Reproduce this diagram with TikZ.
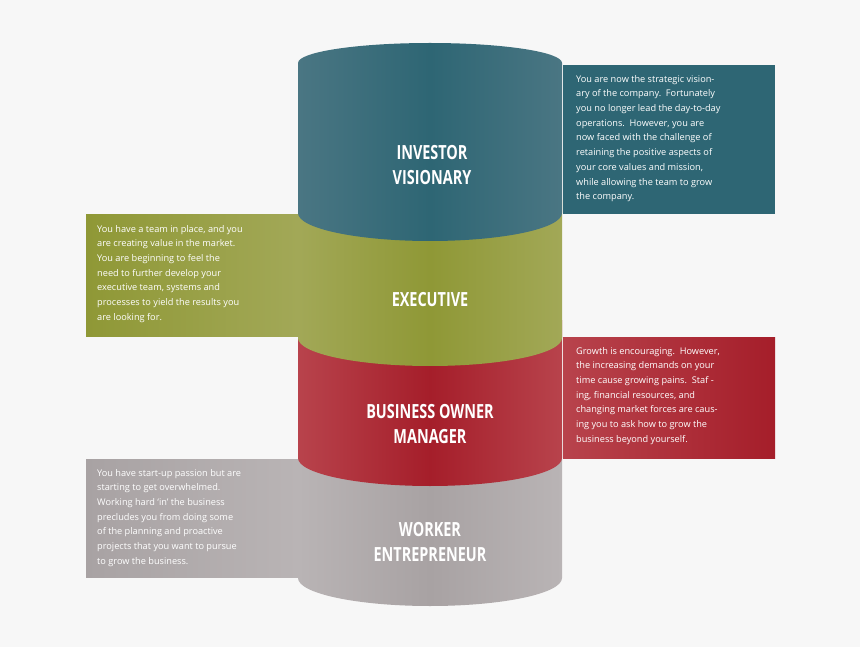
\documentclass[tikz,border=0pt]{standalone}
\usepackage{fontspec}
\setmainfont{Open Sans}
\newfontfamily\labfont[FakeStretch=0.74]{Open Sans}
\definecolor{cTeal}{HTML}{2E6674}\definecolor{cTealL}{HTML}{4A7683}
\definecolor{cOlive}{HTML}{8F9836}\definecolor{cOliveL}{HTML}{A2A857}
\definecolor{cRed}{HTML}{A51E2A}\definecolor{cRedL}{HTML}{B8434C}
\definecolor{cGray}{HTML}{A8A2A3}\definecolor{cGrayL}{HTML}{B9B4B5}
\definecolor{cBg}{HTML}{F7F7F7}
\begin{document}
\begin{tikzpicture}[x=1pt,y=-1pt,
  lab/.style={text=white,font=\labfont\bfseries\fontsize{19.5}{25.5}\selectfont,align=center},
  txt/.style={text=white,font=\fontsize{9.2}{14.7}\selectfont,align=left,anchor=north west,inner sep=0pt}]
\fill[cBg] (0,0) rectangle (860,647);
\useasboundingbox (0,0) rectangle (860,647);
% boxes
\fill[cTeal] (563,65) rectangle (775,214);
\shade[left color=cOlive,right color=cOliveL] (86,215) rectangle (298,336);
\shade[left color=cRedL,right color=cRed] (563,337) rectangle (775,458);
\shade[left color=cGray,right color=cGrayL] (86,459) rectangle (298,577);
% cylinder segments, bottom up
\shade[left color=cGrayL,right color=cGrayL,middle color=cGray] (298,440) -- (298,578) arc[start angle=180,end angle=0,x radius=132,y radius=28] -- (562,440) -- cycle;
\shade[left color=cRedL,right color=cRedL,middle color=cRed] (298,320) -- (298,458) arc[start angle=180,end angle=0,x radius=132,y radius=28] -- (562,320) -- cycle;
\shade[left color=cOliveL,right color=cOliveL,middle color=cOlive] (298,200) -- (298,338) arc[start angle=180,end angle=0,x radius=132,y radius=28] -- (562,200) -- cycle;
\shade[left color=cTealL,right color=cTealL,middle color=cTeal] (298,213) -- (298,63) arc[start angle=180,end angle=360,x radius=132,y radius=20] -- (562,213) arc[start angle=0,end angle=180,x radius=132,y radius=28] -- cycle;
% labels
\node[lab] (l1) at (432,165) {INVESTOR\\VISIONARY};
\node[lab] (l2) at (430,300) {EXECUTIVE};
\node[lab] (l3) at (430,424) {BUSINESS OWNER\\MANAGER};
\node[lab] (l4) at (430,542) {WORKER\\ENTREPRENEUR};
% texts
\node[txt] (t1) at (576,75) {You are now the strategic vision-\\ary of the company.\ \ Fortunately\\you no longer lead the day-to-day\\operations.\ \ However, you are\\now faced with the challenge of\\retaining the positive aspects of\\your core values and mission,\\while allowing the team to grow\\the company.};
\node[txt] (t2) at (97,225) {You have a team in place, and you\\are creating value in the market.\\You are beginning to feel the\\need to further develop your\\executive team, systems and\\processes to yield the results you\\are looking for.};
\node[txt] (t3) at (576,347) {Growth is encouraging.\ \ However,\\the increasing demands on your\\time cause growing pains.\ \ Staf -\\ing, financial resources, and\\changing market forces are caus-\\ing you to ask how to grow the\\business beyond yourself.};
\node[txt] (t4) at (97,469) {You have start-up passion but are\\starting to get overwhelmed.\\Working hard `in' the business\\precludes you from doing some\\of the planning and proactive\\projects that you want to pursue\\to grow the business.};
\end{tikzpicture}
\end{document}
